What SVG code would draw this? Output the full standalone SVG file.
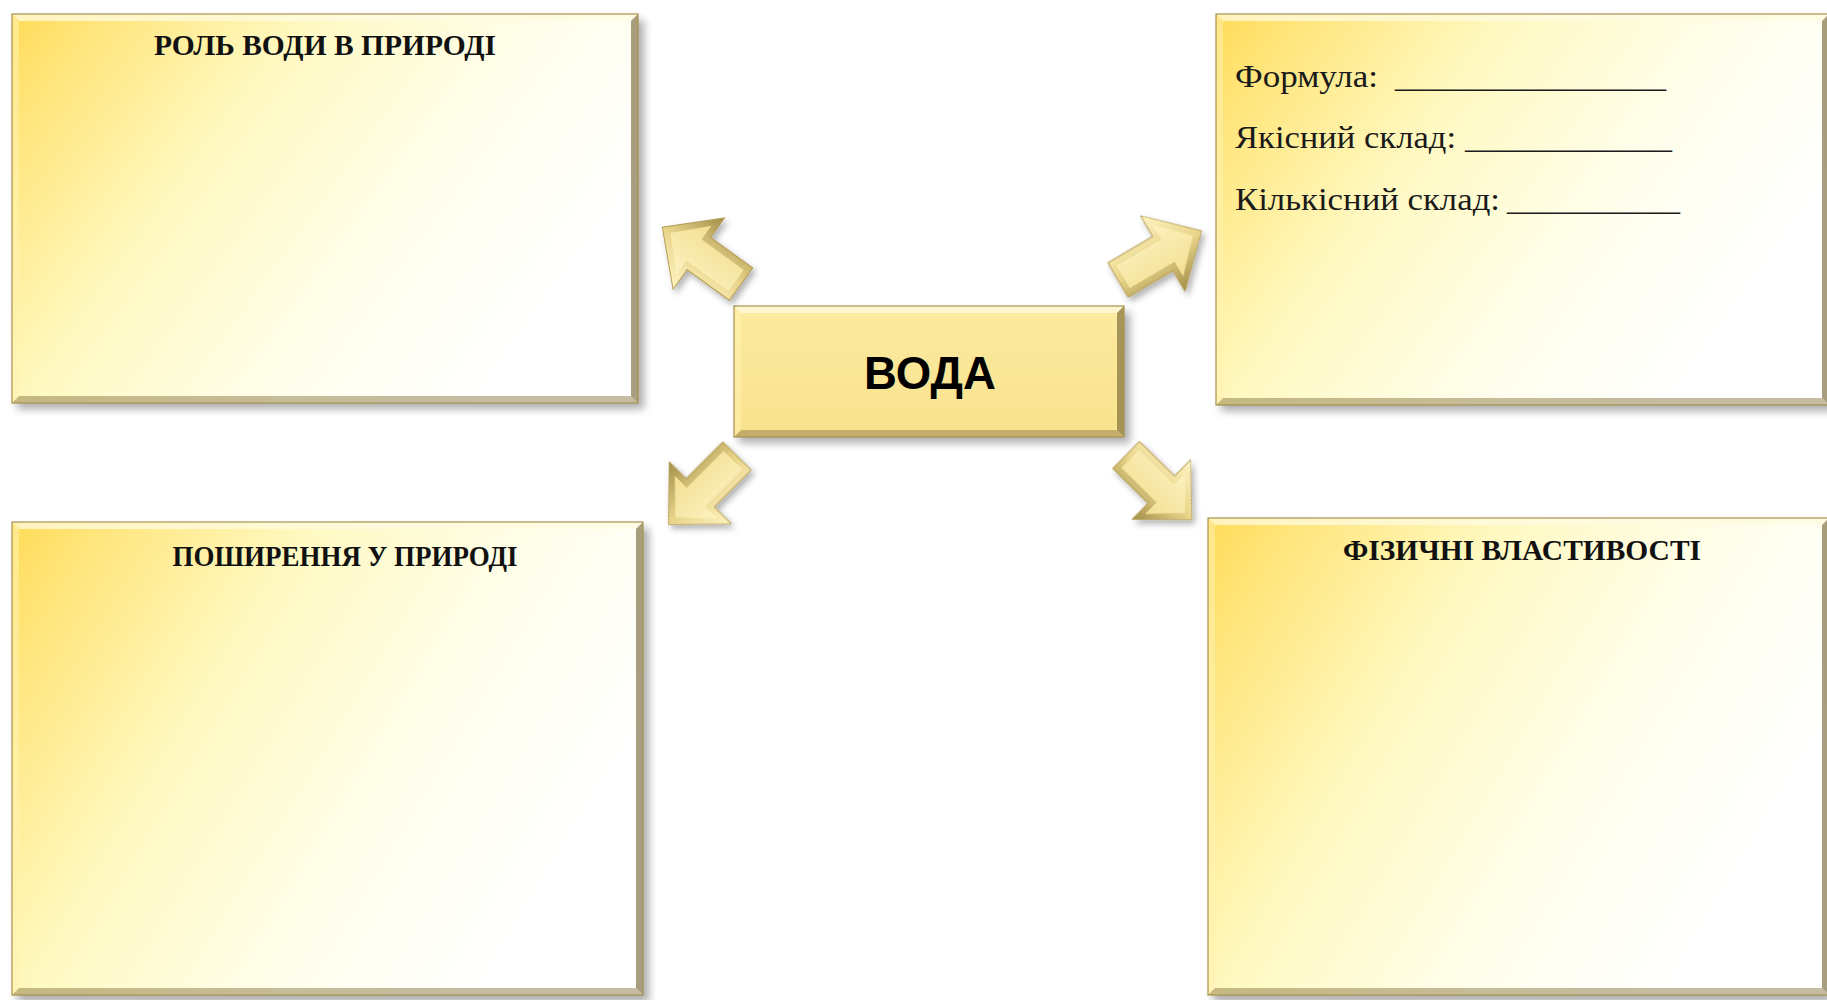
<svg xmlns="http://www.w3.org/2000/svg" width="1827" height="1000" viewBox="0 0 1827 1000">
  <defs>
    <style>
      .title { font-family: "Liberation Serif", "Times New Roman", serif; font-weight: bold; font-size: 30px; fill: #111; text-anchor: middle; }
      .field { font-family: "Liberation Serif", "Times New Roman", serif; font-size: 32px; fill: #1a1a1a; }
      .center-label { font-family: "Liberation Sans", Arial, sans-serif; font-weight: bold; font-size: 46px; fill: #000; text-anchor: middle; }
      .panel { fill: url(#panelFill); }
      .core { fill: url(#coreFill); }
      .bev-top { fill: #fffbe0; opacity: 0.75; }
      .bev-left { fill: #fff2b0; opacity: 0.55; }
      .bev-right { fill: #6e5d2c; opacity: 0.6; }
      .bev-bottom { fill: #8c7a44; opacity: 0.5; }
      .edge { fill: none; stroke: #a8924e; stroke-width: 1.2; }
      .shadow { fill: #000; opacity: 0.32; filter: url(#soft); }
    </style>
    <linearGradient id="panelFill" x1="0" y1="0" x2="1" y2="0.45">
      <stop offset="0" stop-color="#ffdb58"/>
      <stop offset="0.12" stop-color="#ffe57c"/>
      <stop offset="0.4" stop-color="#fff9c2"/>
      <stop offset="0.72" stop-color="#fffeec"/>
      <stop offset="1" stop-color="#ffffff"/>
    </linearGradient>
    <linearGradient id="coreFill" x1="0" y1="0" x2="0" y2="1">
      <stop offset="0" stop-color="#fcea9f"/>
      <stop offset="1" stop-color="#f8e28e"/>
    </linearGradient>
    <linearGradient id="arrowOuter" x1="0" y1="0" x2="0" y2="1">
      <stop offset="0" stop-color="#fff3c2"/>
      <stop offset="0.5" stop-color="#e9d58a"/>
      <stop offset="1" stop-color="#a38e4a"/>
    </linearGradient>
    <linearGradient id="arrowInner" x1="0" y1="0" x2="0" y2="1">
      <stop offset="0" stop-color="#fcf2bf"/>
      <stop offset="1" stop-color="#f2df92"/>
    </linearGradient>
    <filter id="soft" x="-10%" y="-10%" width="120%" height="120%">
      <feGaussianBlur stdDeviation="4"/>
    </filter>
    <filter id="arrowShadow" x="-30%" y="-30%" width="160%" height="160%">
      <feDropShadow dx="3" dy="4" stdDeviation="3" flood-color="#000" flood-opacity="0.3"/>
    </filter>
    <!-- block arrow pointing along +x, base at the origin -->
    <g id="blockArrow">
      <path d="M0,-20 L52,-20 L52,-44 L97,0 L52,44 L52,20 L0,20 Z" fill="url(#arrowOuter)" stroke="#b49d58" stroke-width="1"/>
      <path d="M6,-13 L58,-13 L58,-30 L87,0 L58,30 L58,13 L6,13 Z" fill="url(#arrowInner)"/>
    </g>
  </defs>

  <rect width="1827" height="1000" fill="#ffffff"/>

  <!-- Role of water panel -->
  <g id="node-role">
    <rect class="shadow" x="17" y="20" width="627" height="389"/>
    <rect class="panel" x="12" y="14" width="626" height="389"/>
    <polygon class="bev-top" points="12,14 638,14 631,21 19,21"/>
    <polygon class="bev-left" points="12,14 19,21 19,396 12,403"/>
    <polygon class="bev-right" points="638,14 638,403 631,396 631,21"/>
    <polygon class="bev-bottom" points="12,403 638,403 631,396 19,396"/>
    <rect class="edge" x="12" y="14" width="626" height="389"/>
    <text class="title" x="325" y="55" textLength="342" lengthAdjust="spacingAndGlyphs">РОЛЬ ВОДИ В ПРИРОДІ</text>
  </g>

  <!-- Composition panel -->
  <g id="node-composition">
    <rect class="shadow" x="1221" y="20" width="620" height="391"/>
    <rect class="panel" x="1216" y="14" width="613" height="391"/>
    <polygon class="bev-top" points="1216,14 1829,14 1822,21 1223,21"/>
    <polygon class="bev-left" points="1216,14 1223,21 1223,398 1216,405"/>
    <polygon class="bev-right" points="1829,14 1829,405 1822,398 1822,21"/>
    <polygon class="bev-bottom" points="1216,405 1829,405 1822,398 1223,398"/>
    <rect class="edge" x="1216" y="14" width="613" height="391"/>
    <text class="field" y="87"><tspan x="1235" textLength="143" lengthAdjust="spacingAndGlyphs">Формула:</tspan><tspan x="1395" textLength="271" lengthAdjust="spacingAndGlyphs">_______________</tspan></text>
    <text class="field" y="148"><tspan x="1235" textLength="221" lengthAdjust="spacingAndGlyphs">Якісний склад:</tspan><tspan x="1465" textLength="207" lengthAdjust="spacingAndGlyphs">____________</tspan></text>
    <text class="field" y="210"><tspan x="1235" textLength="265" lengthAdjust="spacingAndGlyphs">Кількісний склад:</tspan><tspan x="1507" textLength="173" lengthAdjust="spacingAndGlyphs">__________</tspan></text>
  </g>

  <!-- Central node -->
  <g id="node-water">
    <rect class="shadow" x="739" y="312" width="391" height="131"/>
    <rect class="core" x="734" y="306" width="390" height="131"/>
    <polygon class="bev-top" points="734,306 1124,306 1117,313 741,313"/>
    <polygon class="bev-left" points="734,306 741,313 741,430 734,437"/>
    <polygon class="bev-right" points="1124,306 1124,437 1117,430 1117,313"/>
    <polygon class="bev-bottom" points="734,437 1124,437 1117,430 741,430"/>
    <rect class="edge" x="734" y="306" width="390" height="131"/>
    <text class="center-label" x="930" y="389" textLength="132" lengthAdjust="spacingAndGlyphs">ВОДА</text>
  </g>

  <!-- Distribution panel -->
  <g id="node-distribution">
    <rect class="shadow" x="17" y="528" width="632" height="474"/>
    <rect class="panel" x="12" y="522" width="631" height="473"/>
    <polygon class="bev-top" points="12,522 643,522 636,529 19,529"/>
    <polygon class="bev-left" points="12,522 19,529 19,988 12,995"/>
    <polygon class="bev-right" points="643,522 643,995 636,988 636,529"/>
    <polygon class="bev-bottom" points="12,995 643,995 636,988 19,988"/>
    <rect class="edge" x="12" y="522" width="631" height="473"/>
    <text class="title" x="345" y="566" textLength="345" lengthAdjust="spacingAndGlyphs">ПОШИРЕННЯ У ПРИРОДІ</text>
  </g>

  <!-- Physical properties panel -->
  <g id="node-physical">
    <rect class="shadow" x="1213" y="524" width="620" height="478"/>
    <rect class="panel" x="1208" y="518" width="621" height="477"/>
    <polygon class="bev-top" points="1208,518 1829,518 1822,525 1215,525"/>
    <polygon class="bev-left" points="1208,518 1215,525 1215,988 1208,995"/>
    <polygon class="bev-right" points="1829,518 1829,995 1822,988 1822,525"/>
    <polygon class="bev-bottom" points="1208,995 1829,995 1822,988 1215,988"/>
    <rect class="edge" x="1208" y="518" width="621" height="477"/>
    <text class="title" x="1522" y="560" textLength="358" lengthAdjust="spacingAndGlyphs">ФІЗИЧНІ ВЛАСТИВОСТІ</text>
  </g>

  <!-- Connectors: block arrows from the central node -->
  <g id="connectors" filter="url(#arrowShadow)">
    <use href="#blockArrow" transform="translate(741,284) rotate(215.8)"/>
    <use href="#blockArrow" transform="translate(1118,280) rotate(-30.5)"/>
    <use href="#blockArrow" transform="translate(737,456) rotate(135)"/>
    <use href="#blockArrow" transform="translate(1126,455) rotate(44.5) scale(0.95)"/>
  </g>
</svg>
